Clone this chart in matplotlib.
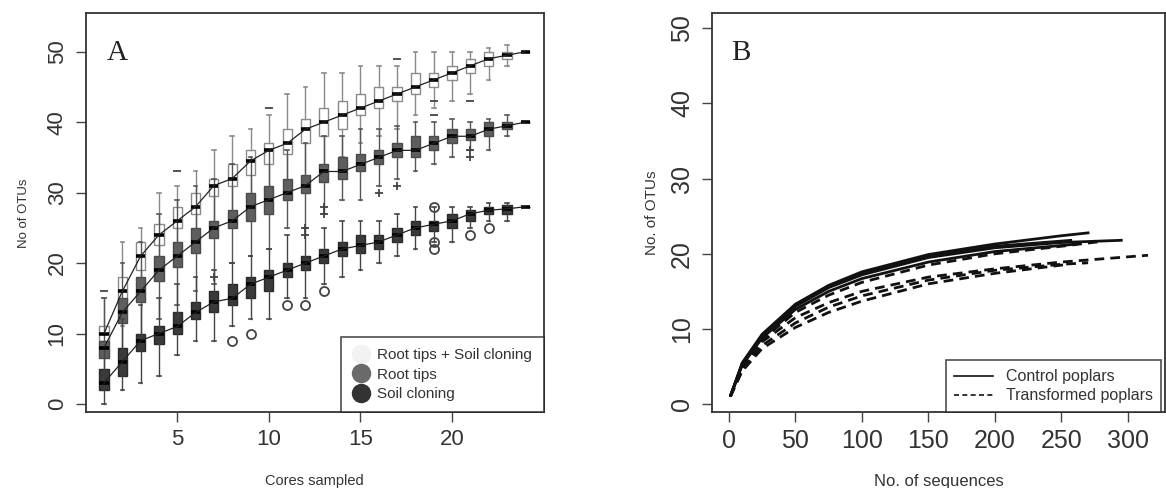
import numpy as np
import matplotlib
matplotlib.use("Agg")
import matplotlib.pyplot as plt
from matplotlib.lines import Line2D

plt.rcParams['font.family'] = ['Liberation Sans', 'DejaVu Sans']

# ---- panel A: rarefaction boxplots (cores sampled) ----
cores = list(range(1, 25))

# Root tips + Soil cloning
top_med = [10, 16, 21, 24, 26, 28, 31, 32, 34.5, 36, 37, 39, 40, 41, 42, 43, 44, 45, 46, 47, 48, 49, 49.5, 50]
top_q1 = [9, 14, 19, 22.5, 25, 27, 29.5, 31, 32.5, 34, 35.5, 37, 38, 39, 41, 42, 43, 44, 45, 46, 47, 48, 49, 50]
top_q3 = [11, 18, 23, 25.5, 28, 30, 32, 34, 36, 37, 39, 40.5, 42, 43, 44, 45, 45, 47, 47, 48, 49, 50, 50, 50]
top_lo = [7, 11, 16, 19, 21, 23, 25, 27, 28, 29, 30, 32, 33, 35, 37, 38, 39, 41, 42, 43, 44, 46, 48, 50]
top_hi = [15, 23, 25, 30, 31, 33, 36, 38, 39, 41, 44, 45, 47, 47, 48, 48, 48, 50, 50, 50, 50, 50.5, 51, 50]
top_out = {1: [16], 5: [33], 10: [42], 17: [49], 19: [41, 43], 21: [43]}

# Root tips
mid_med = [8, 13, 16, 19, 21, 23, 25, 26, 28, 29, 30, 31, 33, 33, 34, 35, 36, 36, 37, 38, 38, 39, 39.5, 40]
mid_q1 = [6.5, 11.5, 14.5, 17.5, 19.5, 21.5, 23.5, 25, 26, 27, 29, 30, 31.5, 32, 33, 34, 35, 35, 36, 37, 37.5, 38, 39, 40]
mid_q3 = [9, 15, 18, 21, 23, 25, 26, 27.5, 30, 31, 32, 32.5, 34, 35, 35.5, 36, 37, 38, 38, 39, 39, 40, 40, 40]
mid_lo = [3, 6, 9, 12, 14, 16, 17, 20, 21, 22, 25, 25, 27, 29, 29, 31, 32, 33, 34, 35, 36, 36, 38, 40]
mid_hi = [15, 20, 23, 27, 29, 31, 32, 34, 35, 36, 36, 37, 38, 38, 39, 39, 39.5, 40, 40, 40.5, 40, 40.5, 41, 40]
mid_out = {7: [18], 12: [24, 25], 13: [27, 28], 16: [30], 17: [31], 21: [35, 36]}

# Soil cloning
bot_med = [3, 6, 9, 10, 11, 13, 14.5, 15, 17, 18, 19, 20, 21, 22, 22.5, 23, 24, 25, 25.5, 26, 27, 27.5, 27.7, 28]
bot_q1 = [2, 4, 7.5, 8.5, 10, 12, 13, 14, 15, 16, 18, 19, 20, 21, 21.5, 22, 23, 24, 24.5, 25, 26, 27, 27, 28]
bot_q3 = [5, 8, 10, 11, 13, 14.5, 16, 17, 18, 19, 20, 21, 22, 23, 24, 24, 25, 26, 26, 27, 27.5, 28, 28.2, 28]
bot_lo = [0, 2, 3, 4, 7, 9, 9, 11, 12, 12, 15, 15, 17, 18, 19, 20, 21, 22, 23, 23, 25, 26, 26, 28]
bot_hi = [8, 12, 14, 15, 17, 18, 19, 20, 21, 22, 24, 25, 25, 26, 26, 26, 27, 28, 28, 28, 28, 28.5, 28.5, 28]
bot_out = {8: [9], 9: [10], 11: [14], 12: [14], 13: [16], 19: [22, 23, 28], 21: [24], 22: [25]}

legend_a = ["Root tips + Soil cloning", "Root tips", "Soil cloning"]

# ---- panel B: rarefaction curves (sequences) ----
ctrl_x = [
    [1, 10, 25, 50, 75, 100, 150, 200, 250, 271],
    [1, 10, 25, 50, 75, 100, 150, 200, 250, 296],
    [1, 10, 25, 50, 75, 100, 150, 200, 258],
    [1, 10, 25, 50, 75, 100, 150, 200, 262],
]
ctrl_y = [
    [1, 5.5, 9.3, 13.3, 15.8, 17.6, 19.9, 21.3, 22.4, 22.8],
    [1, 5.3, 9.0, 13.0, 15.5, 17.2, 19.5, 20.8, 21.5, 21.8],
    [1, 5.4, 9.2, 13.2, 15.6, 17.4, 19.7, 21.0, 21.8],
    [1, 5.2, 8.8, 12.6, 15.0, 16.7, 18.9, 20.3, 21.3],
]
trans_x = [
    [1, 10, 25, 50, 75, 100, 150, 200, 250, 315],
    [1, 10, 25, 50, 75, 100, 150, 200, 250, 278],
    [1, 10, 25, 50, 75, 100, 150, 200, 250, 270],
    [1, 10, 25, 50, 75, 100, 150, 200, 255],
]
trans_y = [
    [1, 4.8, 8.3, 11.5, 13.5, 15.0, 16.9, 18.0, 18.9, 19.8],
    [1, 5.0, 8.6, 12.2, 14.5, 16.2, 18.5, 20.0, 21.0, 21.6],
    [1, 4.6, 7.8, 10.8, 12.9, 14.4, 16.5, 17.8, 18.6, 18.8],
    [1, 4.4, 7.4, 10.2, 12.2, 13.7, 16.0, 17.4, 18.6],
]
legend_b = ["Control poplars", "Transformed poplars"]

TXT = '#333333'

fig = plt.figure(figsize=(11.66, 4.88), dpi=100)
axA = fig.add_axes([0.0735, 0.1551, 0.3927, 0.8176])
axB = fig.add_axes([0.6108, 0.1557, 0.3881, 0.8170])


def stats(med, q1, q3, lo, hi, out):
    res = []
    for i in range(len(med)):
        res.append(dict(med=med[i], q1=q1[i], q3=q3[i], whislo=lo[i], whishi=hi[i],
                        fliers=out.get(i + 1, [])))
    return res


series = [
    (top_med, top_q1, top_q3, top_lo, top_hi, top_out, 'white', '#8a8a8a', '#8a8a8a', '_'),
    (mid_med, mid_q1, mid_q3, mid_lo, mid_hi, mid_out, '#5e5e5e', '#4a4a4a', '#555555', '+'),
    (bot_med, bot_q1, bot_q3, bot_lo, bot_hi, bot_out, '#3a3a3a', '#2a2a2a', '#444444', 'o'),
]
for med, q1, q3, lo, hi, out, face, edge, wcol, fm in series:
    axA.bxp(stats(med, q1, q3, lo, hi, out), positions=cores, widths=0.5,
            patch_artist=True, manage_ticks=False, capwidths=0.2,
            boxprops=dict(facecolor=face, edgecolor=edge, linewidth=1.0),
            medianprops=dict(color='black', linewidth=2.6),
            whiskerprops=dict(color=wcol, linewidth=1.0, linestyle='-'),
            capprops=dict(color=wcol, linewidth=1.2),
            flierprops=dict(marker=fm, markersize=6 if fm != 'o' else 6.5,
                            markerfacecolor='none', markeredgecolor='#444444',
                            markeredgewidth=1.3))
    axA.plot(cores, med, color='#222222', lw=0.9, zorder=5)

axA.set_xlim(0, 25)
axA.set_ylim(-1.18, 55.45)
axA.set_xticks([5, 10, 15, 20])
axA.set_yticks([0, 10, 20, 30, 40, 50])
axA.set_xlabel("Cores sampled", fontsize=10.5, color=TXT, labelpad=17)
axA.set_ylabel("No of OTUs", fontsize=9.5, color=TXT, labelpad=12)
axA.text(0.045, 0.9, "A", transform=axA.transAxes, fontsize=21,
         family=['Liberation Serif', 'DejaVu Serif'], color='#222222', ha='left', va='center')

handles_a = [Line2D([], [], marker='o', ls='none', markersize=13, markerfacecolor=c, markeredgecolor=c)
             for c in ['#f2f2f2', '#6a6a6a', '#333333']]
legA = axA.legend(handles_a, legend_a, loc='lower right', borderaxespad=0, fontsize=11,
                  frameon=True, fancybox=False, handletextpad=0.45, labelspacing=0.35,
                  borderpad=0.75, handlelength=1.2, labelcolor=TXT)
legA.get_frame().set_edgecolor('#222222')
legA.get_frame().set_linewidth(1.2)

for x, y in zip(ctrl_x, ctrl_y):
    axB.plot(x, y, color='#111111', lw=2.0, ls='-', solid_capstyle='butt')
for x, y in zip(trans_x, trans_y):
    axB.plot(x, y, color='#111111', lw=2.0, ls=(0, (3.5, 2.2)))

axB.set_xlim(-12.6, 327.6)
axB.set_ylim(-1.06, 52.0)
axB.set_xticks([0, 50, 100, 150, 200, 250, 300])
axB.set_yticks([0, 10, 20, 30, 40, 50])
axB.set_xlabel("No. of sequences", fontsize=12, color=TXT, labelpad=15)
axB.set_ylabel("No. of OTUs", fontsize=11, color=TXT, labelpad=8)
axB.text(0.042, 0.9, "B", transform=axB.transAxes, fontsize=21,
         family=['Liberation Serif', 'DejaVu Serif'], color='#222222', ha='left', va='center')
handles_b = [Line2D([], [], color='#111111', lw=1.2, ls='-'),
             Line2D([], [], color='#111111', lw=1.2, ls=(0, (3, 2)))]
legB = axB.legend(handles_b, legend_b, loc='lower left', bbox_to_anchor=(0.516, 0.0),
                  borderaxespad=0, fontsize=11.5, frameon=True, fancybox=False,
                  handlelength=2.4, handletextpad=0.8, labelspacing=0.25, borderpad=0.55,
                  labelcolor=TXT)
legB.get_frame().set_edgecolor('#222222')
legB.get_frame().set_linewidth(1.2)

for ax, fs in [(axA, 16), (axB, 18)]:
    for s in ax.spines.values():
        s.set_color('#333333')
        s.set_linewidth(1.3)
    ax.tick_params(direction='out', length=7, width=1.0, color='#444444',
                   labelcolor=TXT, labelsize=fs)
    ax.tick_params(axis='x', pad=5)
    ax.tick_params(axis='y', pad=6)
    for lab in ax.get_yticklabels():
        lab.set_rotation(90)
        lab.set_va('center')

fig.savefig("out.png", dpi=100)
